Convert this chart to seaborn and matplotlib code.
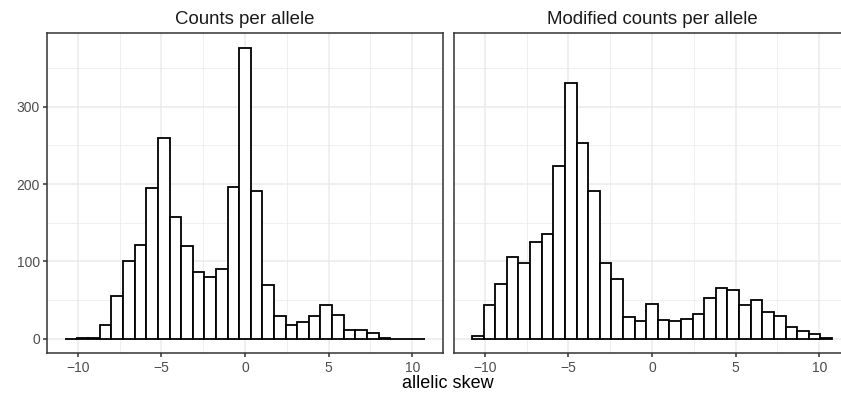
import numpy as np
import pandas as pd
import matplotlib
matplotlib.use("Agg")
import matplotlib.pyplot as plt
import seaborn as sns

# ---- data ----
panel_titles = ["Counts per allele", "Modified counts per allele"]
x_label = "allelic skew"
x_ticks = [-10, -5, 0, 5, 10]
y_ticks = [0, 100, 200, 300]
bin_lo, bin_hi, n_bins = -10.76, 10.76, 31

counts_allele = [0, 1, 1, 18, 55, 101, 121, 195, 259, 157, 120, 86, 80, 90, 196,
                 376, 191, 69, 30, 18, 22, 29, 44, 31, 11, 11, 7, 1, 0, 0, 0]
counts_modified = [4, 44, 71, 106, 98, 125, 135, 223, 330, 253, 191, 98, 77, 28, 23,
                   45, 24, 23, 25, 32, 53, 65, 63, 43, 50, 35, 29, 15, 10, 6, 1]

edges = np.linspace(bin_lo, bin_hi, n_bins + 1)
centers = (edges[:-1] + edges[1:]) / 2
df = pd.concat([
    pd.DataFrame({"skew": centers, "n": counts_allele, "panel": panel_titles[0]}),
    pd.DataFrame({"skew": centers, "n": counts_modified, "panel": panel_titles[1]}),
])

plt.rcParams["font.family"] = ["Liberation Sans", "DejaVu Sans"]

W, H = 841, 400
fig = plt.figure(figsize=(W / 100, H / 100), dpi=100)
pan_top, pan_bot = 33.3, 353.3
pan_w = 396
lefts = [47, 454]

xr = bin_hi - bin_lo
xlim = (bin_lo - 0.05 * xr, bin_hi + 0.05 * xr)
ymax = max(max(counts_allele), max(counts_modified))
ylim = (-0.05 * ymax, ymax * 1.05)

border = "#333333"
for i, (title, left) in enumerate(zip(panel_titles, lefts)):
    ax = fig.add_axes([left / W, 1 - pan_bot / H, pan_w / W, (pan_bot - pan_top) / H])
    sub = df[df["panel"] == title]
    sns.histplot(data=sub, x="skew", weights="n", bins=n_bins, binrange=(bin_lo, bin_hi),
                 ax=ax, color="white", edgecolor="black", linewidth=1.3, alpha=1)
    ax.set_xlim(*xlim)
    ax.set_ylim(*ylim)
    ax.set_xticks(x_ticks)
    ax.set_xticklabels([f"\u2212{abs(t)}" if t < 0 else str(t) for t in x_ticks])
    ax.set_xticks([-7.5, -2.5, 2.5, 7.5], minor=True)
    ax.set_yticks(y_ticks)
    ax.set_yticks([50, 150, 250, 350], minor=True)
    ax.grid(which="major", color="#EBEBEB", linewidth=1.1)
    ax.grid(which="minor", color="#EBEBEB", linewidth=0.55)
    ax.set_axisbelow(True)
    for s in ax.spines.values():
        s.set_color(border)
        s.set_linewidth(1.1)
    ax.tick_params(which="major", length=3.2, width=1.1, color=border,
                   labelsize=10, labelcolor="#4D4D4D", pad=2)
    ax.tick_params(which="minor", length=0)
    ax.set_xlabel("")
    ax.set_ylabel("")
    if i == 1:
        ax.tick_params(axis="y", which="both", left=False, labelleft=False)
    ax.set_title(title, fontsize=13.4, color="#1A1A1A", pad=7)

fig.text(448 / W, 1 - 383 / H, x_label, ha="center", va="center", fontsize=13, color="black")
fig.savefig("out.png", dpi=100, facecolor="white")
